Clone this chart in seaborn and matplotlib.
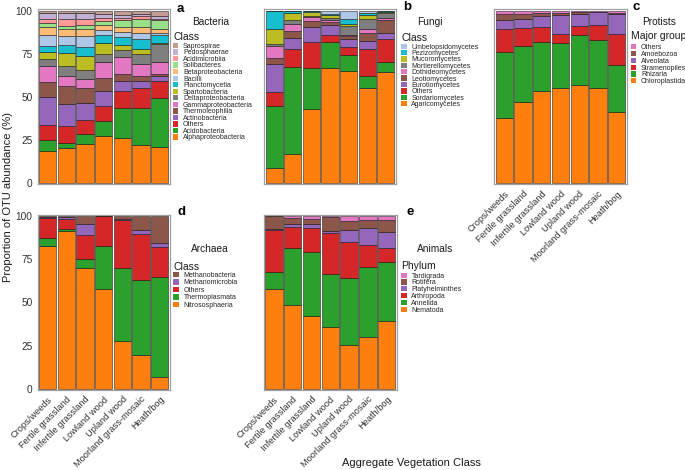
import pandas as pd
import matplotlib
matplotlib.use("Agg")
import matplotlib.pyplot as plt
from matplotlib.patches import Patch
import seaborn as sns

sns.set_style("white")
plt.rcParams.update({'font.family': ['Liberation Sans', 'DejaVu Sans'], 'font.size': 7})

veg_classes = ['Crops/weeds', 'Fertile grassland', 'Infertile grassland', 'Lowland wood',
               'Upland wood', 'Moorland grass-mosaic', 'Heath/bog']

# taxa are listed bottom -> top of each stack, rows of *_pct follow veg_classes
bacteria_taxa = ['Alphaproteobacteria', 'Acidobacteria', 'Others', 'Actinobacteria',
                 'Thermoleophilia', 'Gammaproteobacteria', 'Deltaproteobacteria',
                 'Spartobacteria', 'Planctomycetia', 'Bacilli', 'Betaproteobacteria',
                 'Solibacteres', 'Acidimicrobiia', 'Pedosphaerae', 'Saprospirae']
bacteria_pct = [
    [18.7, 6.3, 8.6, 16.4, 8.9, 9.0, 3.8, 4.4, 3.2, 6.4, 4.5, 2.7, 2.3, 3.5, 1.3],
    [20.6, 2.9, 9.6, 12.8, 10.5, 5.7, 6.0, 7.6, 4.6, 5.0, 3.8, 1.9, 4.2, 3.5, 1.3],
    [22.9, 5.8, 8.2, 9.6, 8.6, 5.1, 5.4, 8.2, 5.4, 6.1, 4.2, 2.3, 3.4, 3.1, 1.7],
    [27.3, 8.8, 8.8, 8.8, 7.1, 9.2, 5.1, 6.4, 4.5, 2.5, 2.9, 2.5, 1.9, 2.3, 1.9],
    [26.4, 17.2, 9.6, 6.1, 3.8, 10.1, 4.2, 2.5, 4.6, 3.1, 3.0, 3.7, 1.3, 1.9, 2.5],
    [22.0, 21.6, 11.8, 3.9, 2.8, 6.7, 6.3, 2.9, 5.4, 3.4, 3.8, 4.6, 1.4, 1.5, 1.9],
    [21.2, 28.1, 10.0, 2.7, 1.1, 7.3, 10.1, 1.0, 4.5, 0.8, 2.7, 5.3, 0.4, 1.4, 3.4],
]

fungi_taxa = ['Agaricomycetes', 'Sordariomycetes', 'Others', 'Eurotiomycetes', 'Leotiomycetes',
              'Dothideomycetes', 'Mortierellomycetes', 'Mucoromycetes', 'Pezizomycetes',
              'Umbelopsidomycetes']
fungi_pct = [
    [9.2, 35.4, 8.2, 16.0, 3.5, 7.2, 1.4, 8.6, 10.5, 0.0],
    [17.2, 50.1, 10.7, 6.1, 4.2, 3.9, 2.3, 4.2, 0.9, 0.4],
    [43.0, 23.9, 14.9, 8.6, 3.7, 1.9, 1.1, 1.9, 0.6, 0.4],
    [66.5, 15.3, 4.2, 5.8, 1.5, 1.5, 0.8, 1.9, 0.6, 1.9],
    [65.2, 9.0, 5.0, 4.5, 1.6, 0.7, 5.0, 1.2, 3.0, 4.8],
    [55.1, 6.9, 16.0, 4.6, 4.2, 2.3, 6.1, 2.3, 1.2, 1.3],
    [64.6, 5.8, 13.3, 3.1, 7.7, 1.1, 3.1, 0.7, 0.6, 0.0],
]

protist_taxa = ['Chloroplastida', 'Rhizaria', 'Stramenopiles', 'Alveolata', 'Amoebozoa', 'Others']
protist_pct = [
    [37.9, 38.2, 13.4, 5.1, 3.5, 1.9],
    [47.0, 32.5, 10.4, 5.3, 2.9, 1.9],
    [53.2, 28.6, 8.8, 6.1, 2.0, 1.3],
    [55.1, 26.4, 4.9, 11.1, 1.2, 1.3],
    [56.8, 28.9, 5.3, 6.9, 1.1, 1.0],
    [55.4, 27.4, 8.6, 7.6, 0.4, 0.6],
    [41.1, 27.4, 17.9, 11.5, 0.6, 1.5],
]

archaea_taxa = ['Nitrososphaeria', 'Thermoplasmata', 'Others', 'Methanomicrobia', 'Methanobacteria']
archaea_pct = [
    [82.9, 4.6, 11.2, 0.7, 0.6],
    [91.6, 0.9, 5.8, 0.9, 0.8],
    [69.7, 5.7, 13.5, 6.5, 4.6],
    [58.0, 24.9, 17.1, 0.0, 0.0],
    [28.0, 41.9, 27.6, 0.6, 1.9],
    [19.8, 43.5, 26.1, 2.3, 8.3],
    [7.1, 57.4, 17.6, 2.4, 15.5],
]

animal_taxa = ['Nematoda', 'Annelida', 'Arthropoda', 'Platyhelminthes', 'Rotifera', 'Tardigrada']
animal_pct = [
    [57.7, 10.2, 24.3, 0.5, 7.3, 0.0],
    [48.4, 33.2, 12.1, 1.9, 3.4, 1.0],
    [42.1, 36.9, 14.3, 1.9, 2.9, 1.9],
    [35.8, 30.5, 23.9, 1.0, 8.2, 0.6],
    [25.4, 39.0, 20.7, 7.1, 4.9, 2.9],
    [30.2, 40.5, 12.3, 10.3, 4.2, 2.5],
    [39.2, 34.4, 8.2, 9.2, 6.5, 2.5],
]

# colour for stack position 1, 2, 3 ... (same sequence in every panel)
stack_colors = ['#ff7f0e', '#2ca02c', '#d62728', '#9467bd', '#8c564b', '#e377c2', '#7f7f7f',
                '#bcbd22', '#17becf', '#aec7e8', '#ffbb78', '#98df8a', '#ff9896', '#c5b0d5',
                '#c49c94']

W, H = 685, 470

def fx(x):
    return x / W

def fy(y):
    return 1 - y / H

# panel layout in pixels: box (left, top, right, bottom), legend key x, legend title y,
# first entry y, entry pitch, group title pos, letter pos
panels = [
    dict(letter='a', group='Bacteria', title='Class', taxa=bacteria_taxa, pct=bacteria_pct,
         box=(37.5, 9.5, 170, 184.5), key_x=172.5, title_y=37, first_y=46, pitch=6.0,
         group_xy=(211, 22), letter_xy=(180, 9), xlab=False, ylab=True),
    dict(letter='b', group='Fungi', title='Class', taxa=fungi_taxa, pct=fungi_pct,
         box=(264, 9.5, 396, 184.5), key_x=401, title_y=38, first_y=46.7, pitch=5.85,
         group_xy=(430, 22), letter_xy=(407, 7), xlab=False, ylab=False),
    dict(letter='c', group='Protists', title='Major group', taxa=protist_taxa, pct=protist_pct,
         box=(494, 9.5, 627, 184.5), key_x=630.5, title_y=36, first_y=47.3, pitch=6.27,
         group_xy=(659, 22), letter_xy=(636, 7), xlab=True, ylab=False),
    dict(letter='d', group='Archaea', title='Class', taxa=archaea_taxa, pct=archaea_pct,
         box=(37.5, 215, 170, 390), key_x=173, title_y=267, first_y=275, pitch=7.0,
         group_xy=(210, 249), letter_xy=(181, 212), xlab=True, ylab=True),
    dict(letter='e', group='Animals', title='Phylum', taxa=animal_taxa, pct=animal_pct,
         box=(263.5, 215, 397, 390), key_x=401, title_y=266, first_y=275.7, pitch=6.3,
         group_xy=(435, 249), letter_xy=(410, 212), xlab=True, ylab=False),
]

LEG_FS = 5.0

fig = plt.figure(figsize=(W / 100, H / 100), dpi=100)

for p in panels:
    l, t, r, b = p['box']
    ax = fig.add_axes([fx(l), fy(b), fx(r) - fx(l), (b - t) / H])

    rows = []
    for veg, vals in zip(veg_classes, p['pct']):
        for taxon, v in zip(p['taxa'], vals):
            rows.append((veg, taxon, v))
    df = pd.DataFrame(rows, columns=['veg', 'taxon', 'pct'])
    df['veg'] = pd.Categorical(df['veg'], categories=veg_classes, ordered=True)

    palette = dict(zip(p['taxa'], stack_colors))
    # first hue level ends up on top of the stack in seaborn
    sns.histplot(data=df, x='veg', hue='taxon', weights='pct', multiple='stack',
                 hue_order=p['taxa'][::-1], palette=palette, discrete=True, shrink=0.93,
                 alpha=1, edgecolor=(0, 0, 0, 0.55), linewidth=0.6, legend=False, ax=ax)

    ax.set_xlim(-0.55, 6.55)
    ax.set_ylim(-0.6, 100.6)
    ax.set_xlabel('')
    ax.set_ylabel('')
    for s in ax.spines.values():
        s.set_color('#a0a0a0')
        s.set_linewidth(0.9)

    ax.set_yticks([0, 25, 50, 75, 100])
    ax.set_xticks(range(len(veg_classes)))
    if p['ylab']:
        ax.tick_params(axis='y', length=2, width=0.6, color='#808080', pad=1.5,
                       labelsize=7.3, labelcolor='#333333')
    else:
        ax.tick_params(axis='y', length=0, labelleft=False)
    if p['xlab']:
        ax.set_xticklabels(veg_classes, rotation=45, ha='right', va='top',
                           rotation_mode='anchor')
        ax.tick_params(axis='x', length=2, width=0.6, color='#808080', pad=1.5,
                       labelsize=6.7, labelcolor='#333333')
    else:
        ax.tick_params(axis='x', length=0, labelbottom=False)

    # legend: top of stack listed first
    handles = [Patch(facecolor=palette[tx], edgecolor='none') for tx in p['taxa'][::-1]]
    row_h = 0.94 * LEG_FS
    spacing = (p['pitch'] * 0.72 - row_h) / LEG_FS
    ax.legend(handles, p['taxa'][::-1], loc='upper left',
              bbox_to_anchor=(fx(p['key_x']), fy(p['first_y'] - 3.2)),
              bbox_transform=fig.transFigure, frameon=False, fontsize=LEG_FS,
              handlelength=0.8, handleheight=0.8, handletextpad=0.7,
              labelspacing=spacing, borderpad=0, borderaxespad=0)

    fig.text(fx(p['key_x'] + 0.5), fy(p['title_y']), p['title'], ha='left', va='center',
             fontsize=7.5, color='#1a1a1a')
    fig.text(fx(p['group_xy'][0]), fy(p['group_xy'][1]), p['group'], ha='center',
             va='center', fontsize=7.3, color='#1a1a1a')
    fig.text(fx(p['letter_xy'][0]), fy(p['letter_xy'][1]), p['letter'], ha='center',
             va='center', fontsize=9.5, fontweight='bold', color='black')

fig.text(fx(8), fy(197), 'Proportion of OTU abundance (%)', rotation=90, ha='center',
         va='center', fontsize=8, color='#1a1a1a')
fig.text(fx(411), fy(463), 'Aggregate Vegetation Class', ha='center', va='center',
         fontsize=8, color='#1a1a1a')

fig.savefig('out.png', dpi=100)
